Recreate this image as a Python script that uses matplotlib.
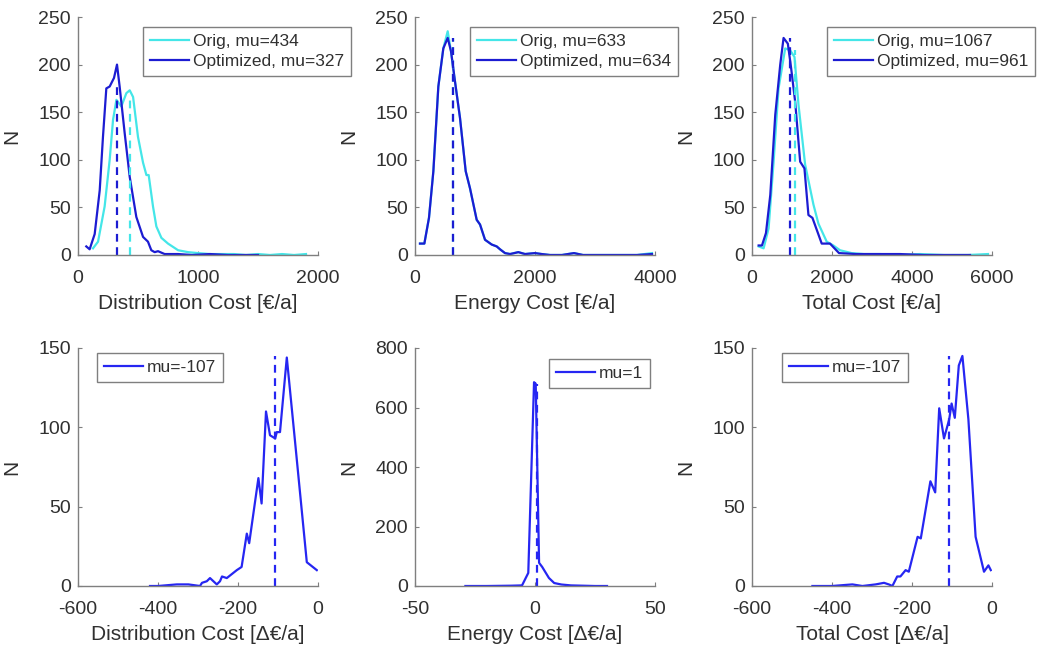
import numpy as np
import matplotlib.pyplot as plt

plt.rcParams['font.family'] = ['Liberation Sans', 'DejaVu Sans']
plt.rcParams['axes.unicode_minus'] = False

# --- data ---
# distribution cost
dist_orig_x = [125, 167, 222, 264, 292, 320, 361, 403, 431, 459, 500, 542, 570, 589,
               625, 653, 695, 750, 834, 917, 1000, 1100, 1200, 1300, 1400, 1500,
               1600, 1700, 1800, 1900]
dist_orig_y = [7, 14, 51, 100, 142, 163, 156, 170, 173, 166, 124, 97, 84, 84,
               51, 30, 18, 12, 5, 3, 2, 1, 1, 1, 0, 1, 0, 1, 0, 1]
dist_opt_x = [69, 97, 139, 181, 208, 236, 264, 300, 325, 347, 389, 431, 486, 542,
              583, 611, 639, 667, 722, 834, 950, 1100, 1250, 1400, 1500]
dist_opt_y = [9, 6, 22, 68, 124, 175, 177, 186, 200, 177, 128, 82, 40, 19,
              14, 5, 3, 4, 1, 1, 0, 1, 0, 0, 0]
dist_mu = [434, 327]
dist_mu_h = [168, 178]

# energy cost
en_x = [83, 156, 233, 306, 389, 472, 545, 600, 667, 750, 845, 917, 1028, 1084,
        1167, 1278, 1362, 1417, 1500, 1584, 1722, 1834, 2000, 2111, 2250, 2450,
        2650, 2800, 3100, 3400, 3700, 3950]
en_orig_y = [12, 12, 39, 88, 177, 217, 235, 214, 182, 144, 88, 70, 37, 32,
             16, 11, 9, 6, 2, 1, 3, 1, 2, 1, 0, 0, 2, 0, 0, 0, 0, 2]
en_opt_y = [12, 12, 39, 88, 177, 217, 228, 214, 182, 144, 88, 70, 37, 32,
            16, 11, 9, 6, 2, 1, 3, 1, 2, 1, 0, 0, 2, 0, 0, 0, 0, 1]
en_mu = [633, 634]
en_mu_h = [228, 228]

# total cost
tot_orig_x = [166, 290, 415, 540, 664, 830, 955, 1062, 1162, 1328, 1536, 1660,
              1868, 2034, 2200, 2490, 2800, 3200, 3700, 4200, 4800, 5400, 5900]
tot_orig_y = [9, 7, 28, 98, 175, 217, 215, 208, 158, 95, 53, 33,
              14, 10, 5, 2, 1, 1, 0, 1, 0, 0, 1]
tot_opt_x = [166, 249, 349, 457, 581, 706, 789, 896, 979, 1079, 1204, 1311, 1411,
             1511, 1743, 1950, 2175, 2600, 3000, 3700, 4300, 5000, 5450]
tot_opt_y = [10, 10, 23, 63, 147, 200, 228, 222, 196, 161, 98, 91, 42,
             39, 12, 12, 2, 1, 1, 1, 0, 0, 0]
tot_mu = [1067, 961]
tot_mu_h = [215, 228]

# differences
ddist_x = [-420, -400, -353, -324, -295, -290, -278, -270, -253, -245, -240, -228,
           -203, -191, -178, -172, -149, -141, -130, -120, -107, -103, -95, -78,
           -57, -28, -3]
ddist_y = [0, 0, 1, 1, 0, 2, 3, 5, 1, 3, 6, 5,
           10, 12, 33, 27, 68, 52, 110, 95, 93, 97, 97, 144,
           90, 15, 10]
ddist_mu, ddist_mu_h = -107, 145

den_x = [-29, -20, -10, -5.4, -2.8, -0.4, 0.3, 1.7, 3, 5.8, 8, 11, 15, 20, 25, 30]
den_y = [0, 0, 1, 2, 44, 685, 680, 78, 64, 27, 10, 5, 2, 1, 0, 0]
den_mu, den_mu_h = 1, 680

dtot_x = [-449, -400, -349, -324, -291, -270, -258, -249, -237, -229, -216, -208,
          -186, -178, -154, -142, -132, -120, -107, -101, -93, -83, -74, -59,
          -41, -20, -9, -3]
dtot_y = [0, 0, 1, 0, 1, 2, 1, 0, 6, 6, 10, 9,
          31, 30, 66, 59, 112, 93, 105, 115, 106, 139, 145, 105,
          31, 9, 13, 10]
dtot_mu, dtot_mu_h = -107, 145

cyan = '#44e6e8'
dblue = '#1c1cd2'
blue = '#2626f2'
grey = '#7f7f7f'
txt = '#303030'

W, H = 1041, 650
fig = plt.figure(figsize=(W / 100, H / 100), dpi=100)

lefts = [78, 415, 752]
aw, ah = 240, 238
bottoms = [255, 586]
LW = 1.6
DASH = (0, (3.5, 2.5))


def make_ax(col, row):
    ax = fig.add_axes([lefts[col] / W, 1 - bottoms[row] / H, aw / W, ah / H])
    for s in ['top', 'right']:
        ax.spines[s].set_visible(False)
    for s in ['left', 'bottom']:
        ax.spines[s].set_color(grey)
        ax.spines[s].set_linewidth(1.0)
    ax.tick_params(direction='in', length=3, color=grey, labelcolor=txt,
                   labelsize=14)
    ax.tick_params(axis='x', pad=11)
    ax.tick_params(axis='y', pad=5)
    ax.set_ylabel('N', fontsize=15, color=txt)
    ax.yaxis.set_label_coords(-0.235, 0.5)
    return ax


def legend(ax, lx, ly):
    leg = ax.legend(loc='upper left', bbox_to_anchor=(lx / W, 1 - ly / H),
                    bbox_transform=fig.transFigure, borderaxespad=0,
                    fontsize=12.5, frameon=True, fancybox=False, framealpha=1,
                    edgecolor=grey, handlelength=2.25, handletextpad=0.23,
                    borderpad=0.4, labelspacing=0.3)
    leg.get_frame().set_linewidth(1.0)
    for t in leg.get_texts():
        t.set_color(txt)


# top row
tops = [
    (dist_orig_x, dist_orig_y, dist_opt_x, dist_opt_y, dist_mu, dist_mu_h,
     2000, [0, 1000, 2000], 'Distribution Cost [€/a]', 143),
    (en_x, en_orig_y, en_x, en_opt_y, en_mu, en_mu_h,
     4000, [0, 2000, 4000], 'Energy Cost [€/a]', 470),
    (tot_orig_x, tot_orig_y, tot_opt_x, tot_opt_y, tot_mu, tot_mu_h,
     6000, [0, 2000, 4000, 6000], 'Total Cost [€/a]', 827),
]
for i, (ox, oy, px, py, mu, mh, xmax, xt, lab, lx) in enumerate(tops):
    ax = make_ax(i, 0)
    ax.plot(ox, oy, color=cyan, lw=LW, label=f'Orig, mu={mu[0]}')
    ax.plot(px, py, color=dblue, lw=LW, label=f'Optimized, mu={mu[1]}')
    ax.plot([mu[0], mu[0]], [0, mh[0]], color=cyan, lw=LW, ls=DASH)
    ax.plot([mu[1], mu[1]], [0, mh[1]], color=dblue, lw=LW, ls=DASH)
    ax.set_xlim(0, xmax)
    ax.set_ylim(0, 250)
    ax.set_xticks(xt)
    ax.set_yticks([0, 50, 100, 150, 200, 250])
    ax.set_xlabel(lab, fontsize=15, color=txt, labelpad=5)
    legend(ax, lx, 27)

# bottom row
bots = [
    (ddist_x, ddist_y, ddist_mu, ddist_mu_h, (-600, 0), [-600, -400, -200, 0],
     (0, 150), [0, 50, 100, 150], 'Distribution Cost [Δ€/a]', 97, 353),
    (den_x, den_y, den_mu, den_mu_h, (-50, 50), [-50, 0, 50],
     (0, 800), [0, 200, 400, 600, 800], 'Energy Cost [Δ€/a]', 549, 359),
    (dtot_x, dtot_y, dtot_mu, dtot_mu_h, (-600, 0), [-600, -400, -200, 0],
     (0, 150), [0, 50, 100, 150], 'Total Cost [Δ€/a]', 782, 353),
]
for i, (x, y, mu, mh, xl, xt, yl, yt, lab, lx, ly) in enumerate(bots):
    ax = make_ax(i, 1)
    ax.plot(x, y, color=blue, lw=LW, label=f'mu={mu}')
    ax.plot([mu, mu], [0, mh], color=blue, lw=LW, ls=DASH)
    ax.set_xlim(*xl)
    ax.set_ylim(*yl)
    ax.set_xticks(xt)
    ax.set_yticks(yt)
    ax.set_xlabel(lab, fontsize=15, color=txt, labelpad=5)
    legend(ax, lx, ly)

fig.savefig('out.png', dpi=100)
